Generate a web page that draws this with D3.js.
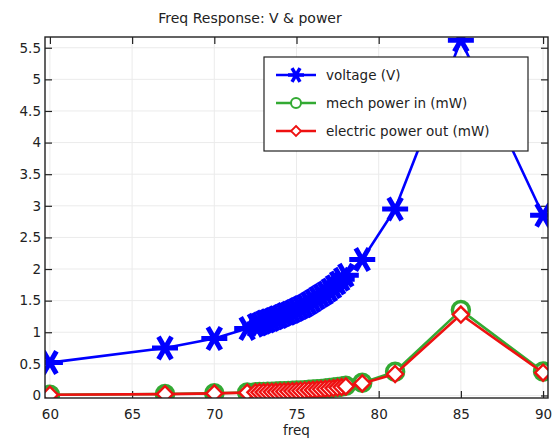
<!DOCTYPE html>
<html>
<head>
<meta charset="utf-8">
<script src="https://cdn.jsdelivr.net/npm/d3@7/dist/d3.min.js"></script>
<style>
  html, body { margin: 0; padding: 0; background: #fff; }
  svg { display: block; font-family: "DejaVu Sans", sans-serif; }
</style>
</head>
<body>
<svg id="chart" width="553" height="440"></svg>
<script>
// Frequency sweep (Hz) with a fine sweep between 72.5 and 78
const freq = [60, 67, 70, 72,
  72.5, 72.75, 73, 73.25, 73.5, 73.75, 74, 74.25, 74.5, 74.75, 75, 75.25,
  75.5, 75.75, 76, 76.25, 76.5, 76.75, 77, 77.25, 77.5, 77.75, 78,
  79, 81, 85, 90];
// Output voltage (V)
const voltage = [0.52, 0.75, 0.9, 1.06,
  1.11, 1.13, 1.16, 1.18, 1.2, 1.23, 1.25, 1.28, 1.3, 1.33, 1.36, 1.39,
  1.42, 1.46, 1.5, 1.54, 1.58, 1.62, 1.67, 1.72, 1.78, 1.84, 1.9,
  2.15, 2.95, 5.62, 2.85];
// Mechanical power in (mW)
const mechPower = [0.012, 0.024, 0.035, 0.048,
  0.052, 0.054, 0.056, 0.058, 0.06, 0.062, 0.065, 0.067, 0.07, 0.073, 0.077, 0.08,
  0.084, 0.089, 0.094, 0.099, 0.104, 0.11, 0.117, 0.125, 0.133, 0.142, 0.152,
  0.2, 0.375, 1.35, 0.38];
// Electric power out (mW)
const elecPower = [0.011, 0.022, 0.033, 0.045,
  0.049, 0.051, 0.053, 0.055, 0.057, 0.058, 0.061, 0.063, 0.066, 0.069, 0.072, 0.075,
  0.079, 0.084, 0.088, 0.093, 0.098, 0.103, 0.11, 0.117, 0.125, 0.133, 0.143,
  0.19, 0.34, 1.28, 0.36];

const xTicks = [60, 65, 70, 75, 80, 85, 90];
const yTicks = [0, 0.5, 1, 1.5, 2, 2.5, 3, 3.5, 4, 4.5, 5, 5.5];

const seriesNames = ["voltage (V)", "mech power in (mW)", "electric power out (mW)"];
const blue = "#0000ff", green = "#33aa33", red = "#ee1111";

const svg = d3.select("#chart");
const plot = { left: 45, right: 548, top: 37, bottom: 398 };

const x = d3.scaleLinear().domain([59.7, 90.3]).range([plot.left, plot.right]);
const y = d3.scaleLinear().domain([-0.04, 5.67]).range([plot.bottom, plot.top]);

// Title
svg.append("text")
  .attr("x", 250).attr("y", 23)
  .attr("text-anchor", "middle")
  .attr("font-size", 14)
  .attr("fill", "#222")
  .text("Freq Response: V & power");

// Grid
const grid = svg.append("g").attr("stroke", "#ebebeb").attr("stroke-width", 1);
grid.selectAll(".gx").data(xTicks).join("line")
  .attr("x1", d => x(d)).attr("x2", d => x(d))
  .attr("y1", plot.top).attr("y2", plot.bottom);
grid.selectAll(".gy").data(yTicks).join("line")
  .attr("x1", plot.left).attr("x2", plot.right)
  .attr("y1", d => y(d)).attr("y2", d => y(d));

// Axes with inward ticks on all four sides
const fmt = d => String(d);
const axisStyle = g => {
  g.select(".domain").remove();
  g.selectAll("line").attr("stroke", "#222").attr("stroke-width", 1.2);
  g.selectAll("text").attr("fill", "#222").attr("font-size", 13.5)
    .attr("font-family", "DejaVu Sans, sans-serif");
};
svg.append("g")
  .attr("transform", `translate(0,${plot.bottom})`)
  .call(d3.axisBottom(x).tickValues(xTicks).tickFormat(fmt).tickSizeInner(-7).tickSizeOuter(0).tickPadding(11))
  .call(axisStyle);
svg.append("g")
  .attr("transform", `translate(0,${plot.top})`)
  .call(d3.axisTop(x).tickValues(xTicks).tickFormat("").tickSizeInner(-7).tickSizeOuter(0))
  .call(axisStyle);
svg.append("g")
  .attr("transform", `translate(${plot.left},0)`)
  .call(d3.axisLeft(y).tickValues(yTicks).tickFormat(fmt).tickSizeInner(-7).tickSizeOuter(0).tickPadding(4))
  .call(axisStyle);
svg.append("g")
  .attr("transform", `translate(${plot.right},0)`)
  .call(d3.axisRight(y).tickValues(yTicks).tickFormat("").tickSizeInner(-7).tickSizeOuter(0))
  .call(axisStyle);

// Axis label
svg.append("text")
  .attr("x", (plot.left + plot.right) / 2).attr("y", 435)
  .attr("text-anchor", "middle").attr("font-size", 13.5).attr("fill", "#222")
  .text("freq");

// Clip data to the plotting area
svg.append("clipPath").attr("id", "clip")
  .append("rect")
  .attr("x", plot.left).attr("y", plot.top)
  .attr("width", plot.right - plot.left).attr("height", plot.bottom - plot.top);
const data = svg.append("g").attr("clip-path", "url(#clip)");

// Marker shapes
const starPath = r => {
  let p = "";
  for (let k = 0; k < 3; k++) {
    const a = k * Math.PI / 3;
    const dx = r * Math.cos(a), dy = r * Math.sin(a);
    p += `M${-dx},${-dy}L${dx},${dy}`;
  }
  return p;
};
const diamondPath = r => `M0,${-r}L${r},0L0,${r}L${-r},0Z`;

function drawSeries(g, values, color, lw) {
  const line = d3.line().x((d, i) => x(freq[i])).y(d => y(d));
  g.append("path").datum(values)
    .attr("fill", "none").attr("stroke", color).attr("stroke-width", lw)
    .attr("stroke-linejoin", "round")
    .attr("d", line);
}

// Voltage
drawSeries(data, voltage, blue, 2.6);
data.append("g").selectAll("path").data(voltage).join("path")
  .attr("transform", (d, i) => `translate(${x(freq[i])},${y(d)})`)
  .attr("d", starPath(13))
  .attr("stroke", blue).attr("stroke-width", 5).attr("fill", "none");

// Mechanical power
drawSeries(data, mechPower, green, 2.6);
data.append("g").selectAll("circle").data(mechPower).join("circle")
  .attr("cx", (d, i) => x(freq[i])).attr("cy", d => y(d)).attr("r", 8.5)
  .attr("stroke", green).attr("stroke-width", 3.5).attr("fill", "#fff");

// Electric power
drawSeries(data, elecPower, red, 2.6);
data.append("g").selectAll("path").data(elecPower).join("path")
  .attr("transform", (d, i) => `translate(${x(freq[i])},${y(d)})`)
  .attr("d", diamondPath(8))
  .attr("stroke", red).attr("stroke-width", 2.4).attr("fill", "#fff");

// Frame
svg.append("rect")
  .attr("x", plot.left).attr("y", plot.top)
  .attr("width", plot.right - plot.left).attr("height", plot.bottom - plot.top)
  .attr("fill", "none").attr("stroke", "#222").attr("stroke-width", 1.4);

// Legend
const legend = svg.append("g").attr("transform", "translate(264,57)");
legend.append("rect").attr("width", 264).attr("height", 94)
  .attr("fill", "#fff").attr("stroke", "#222").attr("stroke-width", 1.2);
const colors = [blue, green, red];
seriesNames.forEach((name, i) => {
  const cy = 18 + i * 28;
  const row = legend.append("g").attr("transform", `translate(0,${cy})`);
  row.append("line").attr("x1", 12).attr("x2", 52).attr("y1", 0).attr("y2", 0)
    .attr("stroke", colors[i]).attr("stroke-width", 2.4);
  if (i === 0) {
    row.append("path").attr("transform", "translate(32,0)").attr("d", starPath(8))
      .attr("stroke", blue).attr("stroke-width", 3.5).attr("fill", "none");
  } else if (i === 1) {
    row.append("circle").attr("cx", 32).attr("cy", 0).attr("r", 5)
      .attr("stroke", green).attr("stroke-width", 2).attr("fill", "#fff");
  } else {
    row.append("path").attr("transform", "translate(32,0)").attr("d", diamondPath(5))
      .attr("stroke", red).attr("stroke-width", 1.8).attr("fill", "#fff");
  }
  row.append("text").attr("x", 62).attr("y", 5)
    .attr("font-size", 13.5).attr("fill", "#222").text(name);
});
</script>
</body>
</html>
